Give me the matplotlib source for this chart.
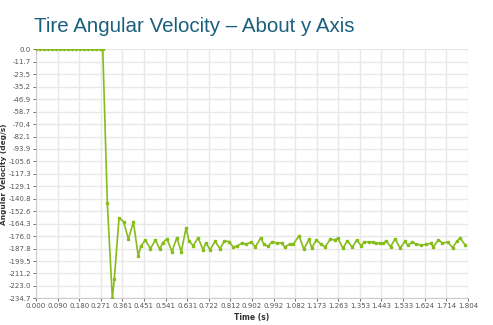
import numpy as np
import matplotlib.pyplot as plt

# time (s) and angular velocity (deg/s)
zero_t = [0.0, 0.017, 0.033, 0.050, 0.067, 0.083, 0.100, 0.117, 0.133, 0.150,
          0.167, 0.183, 0.200, 0.217, 0.233, 0.250, 0.267, 0.279]
zero_v = [0.0] * len(zero_t)
time_s = [0.298, 0.319, 0.327, 0.347, 0.366, 0.386, 0.407, 0.427, 0.438, 0.457,
          0.478, 0.499, 0.517, 0.529, 0.547, 0.568, 0.588, 0.607, 0.627, 0.639,
          0.657, 0.677, 0.698, 0.710, 0.727, 0.748, 0.769, 0.787, 0.808, 0.824,
          0.841, 0.861, 0.879, 0.900, 0.916, 0.939, 0.952, 0.968, 0.987, 1.006,
          1.027, 1.039, 1.059, 1.075, 1.099, 1.119, 1.140, 1.152, 1.171, 1.190,
          1.208, 1.230, 1.247, 1.262, 1.282, 1.301, 1.321, 1.340, 1.359, 1.369,
          1.389, 1.408, 1.420, 1.436, 1.451, 1.463, 1.481, 1.500, 1.521, 1.541,
          1.553, 1.570, 1.589, 1.610, 1.630, 1.649, 1.660, 1.681, 1.698, 1.720,
          1.740, 1.758, 1.771, 1.794]
ang_vel = [-145.1, -234.7, -216.8, -158.7, -162.5, -178.8, -162.5, -194.8, -185.4, -179.7,
           -187.9, -179.7, -188.5, -182.3, -178.5, -190.8, -177.6, -190.8, -168.1, -180.7,
           -185.1, -177.6, -188.9, -182.3, -188.9, -181.0, -187.9, -180.4, -181.3, -186.6,
           -185.1, -182.6, -183.5, -181.6, -186.3, -177.6, -183.8, -185.7, -181.3, -182.6,
           -182.3, -186.6, -183.5, -183.5, -175.7, -188.5, -179.1, -187.3, -179.7, -183.5,
           -186.1, -178.8, -179.7, -178.1, -187.6, -180.4, -186.6, -179.7, -185.4, -181.9,
           -181.6, -181.6, -182.6, -182.8, -182.6, -180.7, -186.1, -178.5, -187.3,
           -181.0, -184.7, -181.9, -183.5, -184.5, -183.8, -182.8, -186.3, -179.5, -182.6,
           -181.6, -187.0, -181.0, -177.9, -184.7]

t = np.array(zero_t + time_s)
v = np.array(zero_v + ang_vel)

x_ticks = np.linspace(0, 1.804, 21)
y_ticks = np.linspace(0, -234.7, 21)

fig = plt.figure(figsize=(4.93, 3.25), dpi=100)
ax = fig.add_axes([0.073, 0.082, 0.876, 0.766])

ax.plot(t, v, color="#86bd1a", lw=1.2, marker="s", ms=2.0, mec="#86bd1a", zorder=3)

ax.set_xlim(0, 1.804)
ax.set_ylim(-234.7, 0)
ax.set_xticks(x_ticks)
ax.set_xticklabels([f"{x:.3f}" for x in x_ticks])
ax.set_yticks(y_ticks)
ax.set_yticklabels([f"{y:.1f}" for y in y_ticks])
ax.tick_params(labelsize=5.0, colors="#555555", length=2, width=0.6, pad=1.5)
ax.grid(True, color="#e8e8e8", lw=1)
ax.set_axisbelow(True)
for s in ["top", "right"]:
    ax.spines[s].set_visible(False)
for s in ["left", "bottom"]:
    ax.spines[s].set_color("#cccccc")
    ax.spines[s].set_linewidth(0.8)

ax.set_xlabel("Time (s)", fontsize=5.5, fontweight="bold", color="#333333", labelpad=3)
ax.set_ylabel("Angular Velocity (deg/s)", fontsize=5.3, fontweight="bold", color="#333333")
ax.yaxis.set_label_coords(-0.066, 0.5)

fig.text(0.069, 0.9, "Tire Angular Velocity \u2013 About y Axis", fontsize=14.8,
         color="#1b5f7e", family="Liberation Sans", va="baseline")

fig.savefig("out.png", dpi=100)
plt.close(fig)
